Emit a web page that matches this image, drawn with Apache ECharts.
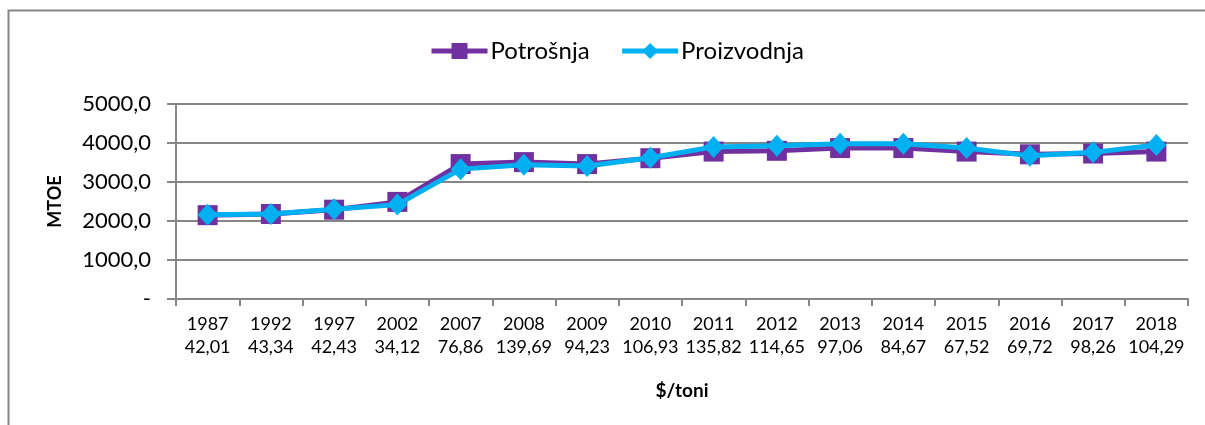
<!DOCTYPE html>
<html>
<head>
<meta charset="utf-8">
<title>Potrošnja i proizvodnja</title>
<script src="https://cdn.jsdelivr.net/npm/echarts@6/dist/echarts.min.js"></script>
<style>
    html, body { margin: 0; padding: 0; background: #fff; }
    #chart { width: 1205px; height: 425px; }
</style>
</head>
<body>
<div id="chart"></div>
<script>
    // podaci
    var years = ['1987', '1992', '1997', '2002', '2007', '2008', '2009', '2010', '2011', '2012', '2013', '2014', '2015', '2016', '2017', '2018'];
    var prices = ['42,01', '43,34', '42,43', '34,12', '76,86', '139,69', '94,23', '106,93', '135,82', '114,65', '97,06', '84,67', '67,52', '69,72', '98,26', '104,29'];
    var potrosnja = [2150, 2180, 2290, 2490, 3460, 3510, 3460, 3610, 3780, 3800, 3870, 3870, 3780, 3710, 3730, 3780];
    var proizvodnja = [2160, 2180, 2300, 2420, 3330, 3440, 3410, 3620, 3900, 3930, 3980, 3980, 3870, 3670, 3760, 3950];

    var categories = years.map(function (y, i) { return y + '\n' + prices[i]; });
    var gray = '#868686';
    var font = 'Lato, "Open Sans", sans-serif';

    var chart = echarts.init(document.getElementById('chart'));
    var option = {
        animation: false,
        textStyle: { fontFamily: font },
        graphic: [
            {
                type: 'polyline',
                shape: { points: [[8.5, 425], [8.5, 10.5], [1205, 10.5]] },
                style: { stroke: gray, lineWidth: 2, fill: null }
            }
        ],
        legend: {
            top: 34,
            left: 424,
            itemWidth: 56,
            itemHeight: 20,
            itemGap: 30,
            lineStyle: { width: 5 },
            textStyle: { fontSize: 24, color: '#000', fontFamily: font, padding: [0, 0, 0, -2] },
            data: ['Potrošnja', 'Proizvodnja']
        },
        grid: {
            left: 176,
            right: 17,
            top: 104,
            bottom: 126
        },
        xAxis: {
            type: 'category',
            data: categories,
            name: '$/toni',
            nameLocation: 'middle',
            nameGap: 82,
            nameTextStyle: { fontSize: 19, fontWeight: 'bold', color: '#000', fontFamily: font },
            axisLine: { lineStyle: { color: gray, width: 2 } },
            axisTick: { show: true, length: 7, lineStyle: { color: gray, width: 2 } },
            axisLabel: {
                interval: 0,
                fontSize: 18,
                lineHeight: 23,
                color: '#000',
                margin: 14,
                fontFamily: font
            }
        },
        yAxis: {
            type: 'value',
            min: 0,
            max: 5000,
            interval: 1000,
            name: 'MTOE',
            nameLocation: 'middle',
            nameGap: 112,
            nameTextStyle: { fontSize: 18, fontWeight: 'bold', color: '#000', fontFamily: font },
            axisLine: { show: true, lineStyle: { color: gray, width: 2 } },
            axisTick: { show: true, length: 9, lineStyle: { color: gray, width: 2 } },
            splitLine: { lineStyle: { color: gray, width: 2 } },
            axisLabel: {
                fontSize: 22,
                color: '#000',
                margin: 25,
                fontFamily: font,
                formatter: function (v) {
                    return v === 0 ? '-' : v.toFixed(1).replace('.', ',');
                }
            }
        },
        series: [
            {
                name: 'Potrošnja',
                type: 'line',
                data: potrosnja,
                symbol: 'rect',
                symbolSize: 20,
                itemStyle: { color: '#7030A0' },
                lineStyle: { color: '#7030A0', width: 5 },
                z: 2
            },
            {
                name: 'Proizvodnja',
                type: 'line',
                data: proizvodnja,
                symbol: 'diamond',
                symbolSize: [20, 22],
                itemStyle: { color: '#00B0F0' },
                lineStyle: { color: '#00B0F0', width: 5 },
                z: 3
            }
        ]
    };
    chart.setOption(option);
</script>
</body>
</html>
